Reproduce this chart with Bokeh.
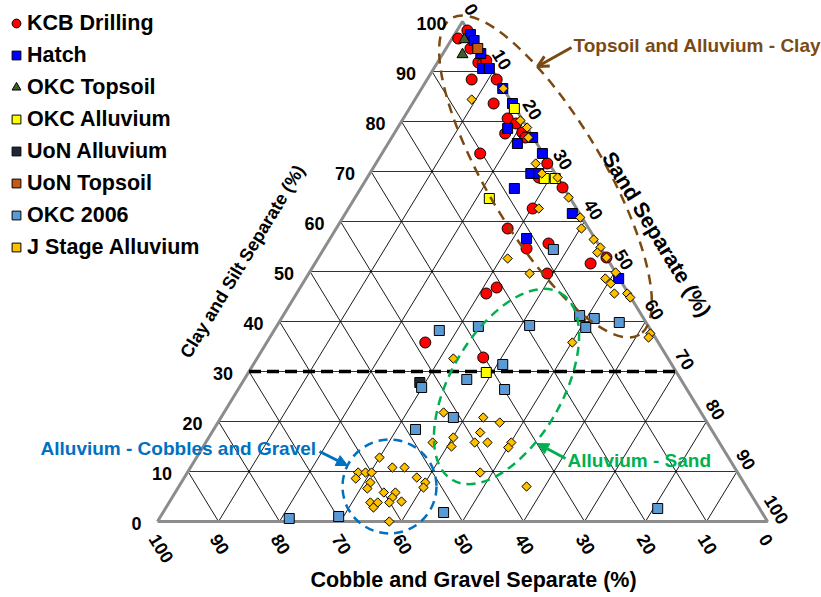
import math
from bokeh.plotting import figure
from bokeh.models import (Range1d, Legend, LegendItem, Arrow, NormalHead, OpenHead, Label)
from bokeh.core.properties import value
from bokeh.embed import file_html
from bokeh.resources import INLINE

# ---------------- data: (clay & silt %, sand %) ; gravel = 100 - clay - sand
kcb_clay = [98.2, 96.6, 94.6, 91.8, 91.6, 92.2, 88.4, 88.4, 83.6, 80.6, 79.6, 77.6, 77.8, 76.8,
            73.6, 71.6, 68.8, 66.8, 62.6, 58.6, 54.6, 55.6, 49.6, 51.6, 46.8, 45.6, 35.8, 32.8, 52.8]
kcb_sand = [1.7, 1.0, 4.0, 6.7, 7.5, 7.8, 7.3, 11.4, 13.3, 17.1, 19.0, 18.2, 20.9, 21.9,
            16.1, 28.1, 28.1, 33.0, 30.2, 28.1, 33.2, 36.3, 39.1, 45.2, 32.2, 31.1, 26.0, 37.0, 47.2]

hatch_clay = [97.4, 96.2, 93.6, 90.6, 90.6, 86.6, 83.6, 78.6, 76.8, 75.6, 73.6, 69.6, 69.6, 66.6,
              61.6, 56.6, 48.6]
hatch_sand = [2.6, 3.8, 6.2, 8.0, 9.1, 13.3, 16.4, 18.1, 23.1, 21.2, 26.3, 26.4, 27.7, 25.2,
              37.2, 32.2, 51.3]

okc_top_clay = [96.4, 93.4]
okc_top_sand = [2.1, 3.3]

okc_all_clay = [82.6, 68.6, 68.6, 64.6, 29.8]
okc_all_sand = [17.2, 29.1, 30.9, 22.1, 39.0]

uon_all_clay = [27.8]
uon_all_sand = [29.1]

uon_top_clay = [94.6]
uon_top_sand = [5.2]

okc06_clay = [54.4, 41.2, 40.6, 39.8, 38.8, 38.2, 39.0, 39.2, 31.4, 28.4, 26.8, 26.4, 20.8, 18.4,
              1.8, 1.0, 0.6, 2.6]
okc06_sand = [37.7, 48.6, 51.3, 55.8, 50.8, 27.1, 33.1, 41.4, 40.9, 36.5, 29.9, 43.7, 38.1, 33.1,
              46.0, 29.2, 21.3, 80.7]

jst_clay = [86.6, 84.4, 80.2, 78.8, 76.8, 71.6, 69.6, 68.8, 64.8, 62.6, 60.8, 58.6, 56.4, 54.8,
            53.8, 52.8, 52.6, 49.6, 49.8, 48.6, 47.6, 45.6, 45.6, 44.8, 37.6, 36.8, 35.8, 32.6,
            21.8, 20.8, 19.8, 17.8, 16.8, 15.0, 15.8, 15.8, 15.8, 15.8, 14.8, 10.8, 9.8, 8.8,
            7.8, 6.8, 7.0,
            12.8, 10.8, 9.8, 9.8, 9.8, 8.6, 7.8, 6.6, 5.8, 5.8, 4.8, 3.8, 4.0, 3.8, 3.8, 2.8, 0.0]
jst_sand = [13.4, 9.3, 19.4, 21.2, 22.4, 26.2, 28.2, 31.2, 35.0, 31.2, 38.9, 40.2, 43.3, 45.2,
            45.2, 47.2, 31.1, 36.2, 50.2, 49.1, 50.5, 52.1, 54.2, 55.1, 62.0, 62.1, 50.1, 32.2,
            36.0, 43.0, 46.2, 44.0, 40.1, 40.7, 37.2, 44.1, 46.2, 50.1, 50.1, 35.1, 48.0, 38.1,
            40.0, 40.2, 57.0,
            30.0, 33.1, 28.0, 29.2, 30.2, 28.2, 31.0, 31.1, 34.2, 36.1, 36.1, 36.1, 38.0, 33.0, 34.2, 34.0, 38.0]

ticks = [0, 10, 20, 30, 40, 50, 60, 70, 80, 90, 100]
tick_labels = [str(t) for t in ticks]
threshold_clay = 30

series = [
    ("KCB Drilling", kcb_clay, kcb_sand, "circle", "#FF0000", 11, 0.0),
    ("Hatch", hatch_clay, hatch_sand, "square", "#0000FF", 10, 0.0),
    ("OKC Topsoil", okc_top_clay, okc_top_sand, "triangle", "#3F5E2A", 11, 0.0),
    ("OKC Alluvium", okc_all_clay, okc_all_sand, "square", "#FFFF00", 10, 0.0),
    ("UoN Alluvium", uon_all_clay, uon_all_sand, "square", "#1E2935", 10, 0.0),
    ("UoN Topsoil", uon_top_clay, uon_top_sand, "square", "#C55A11", 10, 0.0),
    ("OKC 2006", okc06_clay, okc06_sand, "square", "#5B9BD5", 10, 0.0),
    ("J Stage Alluvium", jst_clay, jst_sand, "square", "#FFC000", 6.6, math.pi / 4),
]

# ---------------- layout constants
W, H = 821, 597
OX, OY = 157, 521                 # canvas px of ternary origin (gravel 100 corner)
SX, SY = 6.1, 5.0                 # px per ternary unit
EDGE_ANG = math.atan2(500, 305)   # slope of triangle sides
FONT = "Liberation Sans"
BROWN, BLUE, GREEN = "#7B4A12", "#0070C0", "#00B050"


def tern(clay, sand):
    return [s + c / 2 for c, s in zip(clay, sand)], list(clay)


def px(xp, yp):
    """canvas pixel -> plot coordinates (for annotation placement)"""
    return (xp - OX) / SX, (OY - yp) / SY


p = figure(width=W, height=H, output_backend="svg", toolbar_location=None,
           x_range=Range1d(-OX / SX, (W - OX) / SX),
           y_range=Range1d(-(H - OY) / SY, OY / SY),
           min_border=0, x_axis_location=None, y_axis_location=None)
p.grid.visible = False
p.outline_line_color = None
p.background_fill_color = "white"

# ---------------- grid
inner = ticks[1:-1]
hx = [[t / 2, 100 - t / 2] for t in inner]
hy = [[t, t] for t in inner]
p.multi_line(hx, hy, line_color="#333333", line_width=1.2)
dx = [[t, 50 + t / 2] for t in inner] + [[t, t / 2] for t in inner]
dy = [[0, 100 - t] for t in inner] + [[0, t] for t in inner]
p.multi_line(dx, dy, line_color="#000000", line_width=0.9)
p.line([0, 100, 50, 0], [0, 0, 100, 0], line_color="#8C8C8C", line_width=3)
p.line([threshold_clay / 2, 100 - threshold_clay / 2], [threshold_clay, threshold_clay],
       line_color="black", line_width=3.5, line_dash="12 6")

# ---------------- points
items = []
for name, cl, sa, mk, col, sz, ang in series:
    x, y = tern(cl, sa)
    r = p.scatter(x=x, y=y, marker=mk, size=sz, angle=ang, fill_color=col,
                  line_color="black", line_width=1)
    items.append(LegendItem(label=name, renderers=[r]))

# ---------------- region ellipses
bx, by = px(545, 176)
p.ellipse(x=[bx], y=[by], width=368, height=116, angle=-math.radians(59.3),
          width_units="screen", height_units="screen", fill_alpha=0,
          line_color=BROWN, line_width=2.5, line_dash="10 7")
gx, gy = px(506, 386)
p.ellipse(x=[gx], y=[gy], width=216, height=112, angle=math.radians(60),
          width_units="screen", height_units="screen", fill_alpha=0,
          line_color=GREEN, line_width=2.5, line_dash="9 6")
cx, cy = px(389, 486)
p.ellipse(x=[cx], y=[cy], width=94, height=94,
          width_units="screen", height_units="screen", fill_alpha=0,
          line_color=BLUE, line_width=2.5, line_dash="9 6")


# ---------------- annotation texts + arrows
def note(txt, xp, yp, col):
    x, y = px(xp, yp)
    p.add_layout(Label(x=x, y=y, text=txt, text_color=col, text_font=FONT,
                       text_font_style="bold", text_font_size="19px",
                       text_align="left", text_baseline="middle"))


def arrow(x0p, y0p, x1p, y1p, col, head):
    x0, y0 = px(x0p, y0p)
    x1, y1 = px(x1p, y1p)
    p.add_layout(Arrow(x_start=x0, y_start=y0, x_end=x1, y_end=y1, end=head,
                       line_color=col, line_width=3))


note("Topsoil and Alluvium - Clay", 573, 45, BROWN)
arrow(571, 47, 537, 66, BROWN, OpenHead(size=11, line_color=BROWN, line_width=3))
note("Alluvium - Cobbles and Gravel", 40, 448, BLUE)
arrow(319, 451, 347, 465, BLUE,
      NormalHead(size=11, fill_color=BLUE, line_color=BLUE, line_width=1))
note("Alluvium - Sand", 567, 460, GREEN)
arrow(565, 458, 537, 443, GREEN,
      NormalHead(size=11, fill_color=GREEN, line_color=GREEN, line_width=1))

# ---------------- tick labels
lab_font = dict(text_font=value(FONT), text_font_style="bold", text_font_size="18px",
                text_color="black")
# clay (left side)
p.text(x=[t / 2 for t in ticks], y=ticks, text=tick_labels, x_offset=-16, y_offset=2,
       text_align="right", text_baseline="middle", **lab_font)
# gravel (bottom), 100 at left
p.text(x=[100 - t for t in ticks], y=[0] * len(ticks), text=tick_labels,
       x_offset=-4, y_offset=14, angle=-EDGE_ANG,
       text_align="left", text_baseline="middle", **lab_font)
# sand (right side), 0 at top
p.text(x=[50 + t / 2 for t in ticks], y=[100 - t for t in ticks], text=tick_labels,
       x_offset=9, y_offset=-12, angle=-EDGE_ANG,
       text_align="center", text_baseline="middle", **lab_font)

# ---------------- axis titles
tx, ty = px(242, 261)
p.add_layout(Label(x=tx, y=ty, text="Clay and Silt Separate (%)", angle=EDGE_ANG,
                   text_font=FONT, text_font_style="bold", text_font_size="18px",
                   text_color="black", text_align="center", text_baseline="middle"))
tx, ty = px(656, 234)
p.add_layout(Label(x=tx, y=ty, text="Sand Separate (%)", angle=-EDGE_ANG,
                   text_font=FONT, text_font_style="bold", text_font_size="21.5px",
                   text_color="black", text_align="center", text_baseline="middle"))
tx, ty = px(473, 579)
p.add_layout(Label(x=tx, y=ty, text="Cobble and Gravel Separate (%)",
                   text_font=FONT, text_font_style="bold", text_font_size="21.5px",
                   text_color="black", text_align="center", text_baseline="middle"))

# ---------------- legend
legend = Legend(items=items, location=(5, H - 9 - 252), glyph_width=22, glyph_height=28,
                label_height=28, spacing=4, padding=0, margin=0, label_standoff=0,
                label_text_font=FONT, label_text_font_style="bold",
                label_text_font_size="21.5px", label_text_color="black",
                border_line_color=None, background_fill_alpha=0)
p.add_layout(legend, "center")

open("out.html", "w").write(file_html(p, INLINE))
